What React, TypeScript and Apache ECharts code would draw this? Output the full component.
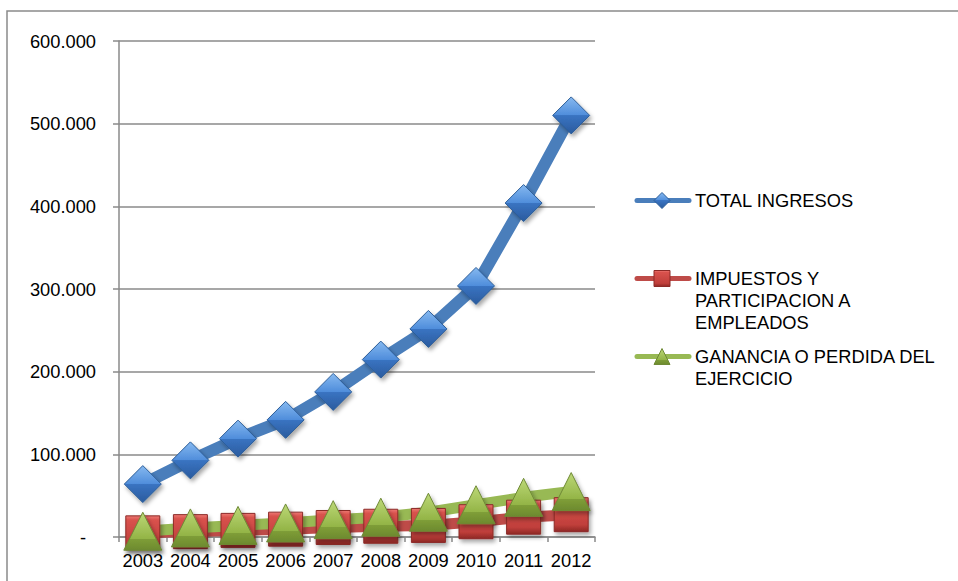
import React, { useEffect, useRef } from "react";
import * as echarts from "echarts";

const years = ["2003", "2004", "2005", "2006", "2007", "2008", "2009", "2010", "2011", "2012"];
const totalIngresos = [64000, 92700, 119000, 141700, 175500, 214600, 251700, 303700, 404000, 510000];
const impuestos = [5000, 6500, 8000, 9500, 11500, 13000, 14000, 18500, 24000, 27000];
const ganancia = [7000, 11000, 14000, 17000, 21000, 24000, 30000, 39000, 48000, 55000];
const seriesNames = ["TOTAL INGRESOS", "IMPUESTOS Y\nPARTICIPACION A\nEMPLEADOS", "GANANCIA O PERDIDA DEL\nEJERCICIO"];

const FONT = "'Liberation Sans', Arial, sans-serif";
const FS = 18.3;
const GRID_COLOR = "#8a8a8a";

const grad = (stops: [number, string][]) => ({
  type: "linear",
  x: 0,
  y: 0,
  x2: 0,
  y2: 1,
  colorStops: stops.map(([offset, color]) => ({ offset, color })),
});

const blueFill = grad([[0, "#86b9f0"], [0.5, "#4f8ddb"], [0.5, "#3a74c2"], [1, "#2a5b9e"]]);
const redFill = grad([[0, "#ee7a74"], [0.12, "#d9524d"], [0.8, "#c03f3b"], [1, "#8e2825"]]);
const greenFill = grad([[0, "#bcd877"], [0.7, "#93b446"], [0.7, "#7f9e38"], [1, "#6d8a2e"]]);

const shadow = {
  shadowBlur: 4,
  shadowOffsetX: 2,
  shadowOffsetY: 3,
  shadowColor: "rgba(0,0,0,0.35)",
};

export default function App() {
  const ref = useRef<HTMLDivElement>(null);

  useEffect(() => {
    if (!ref.current) return;
    const chart = echarts.init(ref.current, null, { renderer: "svg" });

    const legendItems = [
      { y: 200.5, color: "#4a7ebb", shape: "diamond", fill: blueFill, border: "#2c5d98", name: seriesNames[0] },
      { y: 278.5, color: "#be4b48", shape: "rect", fill: redFill, border: "#8c2a27", name: seriesNames[1] },
      { y: 356.5, color: "#98b954", shape: "triangle", fill: greenFill, border: "#6f8a36", name: seriesNames[2] },
    ];

    const legendGraphics: any[] = [];
    legendItems.forEach((it) => {
      legendGraphics.push({
        type: "line",
        shape: { x1: 637, y1: it.y, x2: 689, y2: it.y },
        style: { stroke: it.color, lineWidth: 5, lineCap: "round" },
        silent: true,
      });
      const cx = 662;
      const s = 8;
      if (it.shape === "diamond") {
        legendGraphics.push({
          type: "polygon",
          shape: { points: [[cx, it.y - s], [cx + s, it.y], [cx, it.y + s], [cx - s, it.y]] },
          style: { fill: it.fill, stroke: it.border, lineWidth: 1 },
        });
      } else if (it.shape === "rect") {
        legendGraphics.push({
          type: "rect",
          shape: { x: cx - s, y: it.y - s, width: 2 * s, height: 2 * s },
          style: { fill: it.fill, stroke: it.border, lineWidth: 1 },
        });
      } else {
        legendGraphics.push({
          type: "polygon",
          shape: { points: [[cx, it.y - s], [cx + s, it.y + s], [cx - s, it.y + s]] },
          style: { fill: it.fill, stroke: it.border, lineWidth: 1 },
        });
      }
      legendGraphics.push({
        type: "text",
        x: 695,
        y: it.y - 11,
        style: {
          text: it.name,
          font: `${FS}px ${FONT}`,
          fill: "#000",
          lineHeight: 22,
          verticalAlign: "top",
          align: "left",
        },
      });
    });

    const option: any = {
      animation: false,
      backgroundColor: "#fff",
      grid: { left: 119, top: 41, width: 476, height: 496, outerBoundsMode: "none" },
      xAxis: {
        type: "category",
        data: years,
        boundaryGap: true,
        axisLine: { lineStyle: { color: GRID_COLOR, width: 1.5 } },
        axisTick: { show: true, alignWithLabel: false, length: 5, lineStyle: { color: GRID_COLOR, width: 1.5 } },
        axisLabel: { color: "#000", fontSize: FS, fontFamily: FONT, margin: 14, interval: 0 },
        splitLine: { show: false },
      },
      yAxis: {
        type: "value",
        min: 0,
        max: 600000,
        interval: 100000,
        axisLine: { show: true, lineStyle: { color: GRID_COLOR, width: 1.5 } },
        axisTick: { show: true, length: 6, lineStyle: { color: GRID_COLOR, width: 1.5 } },
        splitLine: { show: true, lineStyle: { color: GRID_COLOR, width: 1.5 } },
        axisLabel: {
          color: "#000",
          fontSize: FS,
          fontFamily: FONT,
          margin: 23,
          formatter: (v: number) => (v === 0 ? "{z|-}" : `${v / 1000}.000`),
          rich: { z: { fontSize: FS, fontFamily: FONT, color: "#000", padding: [0, 10, 0, 0] } },
        },
      },
      series: [
        {
          type: "line",
          name: seriesNames[0],
          data: totalIngresos,
          symbol: "diamond",
          symbolSize: 37,
          lineStyle: { color: "#4a7ebb", width: 12 },
          itemStyle: { color: blueFill, borderColor: "#2c5d98", borderWidth: 1, ...shadow },
          emphasis: { disabled: true },
          silent: true,
        },
        {
          type: "line",
          name: seriesNames[1],
          data: impuestos,
          symbol: "rect",
          symbolSize: 34,
          lineStyle: { color: "#be4b48", width: 11 },
          itemStyle: { color: redFill, borderColor: "#8c2a27", borderWidth: 1, ...shadow },
          emphasis: { disabled: true },
          silent: true,
        },
        {
          type: "line",
          name: seriesNames[2],
          data: ganancia,
          symbol: "triangle",
          symbolSize: [38, 38],
          lineStyle: { color: "#98b954", width: 11 },
          itemStyle: { color: greenFill, borderColor: "#6f8a36", borderWidth: 1, ...shadow },
          emphasis: { disabled: true },
          silent: true,
        },
      ],
      graphic: [
        {
          type: "rect",
          shape: { x: 7, y: 11, width: 1000, height: 1000 },
          style: { fill: "none", stroke: GRID_COLOR, lineWidth: 1.5 },
          silent: true,
          z: -1,
        },
        ...legendGraphics,
      ],
    };

    chart.setOption(option);
    return () => chart.dispose();
  }, []);

  return (
    <div
      ref={ref}
      style={{ position: "fixed", left: 0, top: 0, width: 958, height: 581, background: "#fff" }}
    />
  );
}
